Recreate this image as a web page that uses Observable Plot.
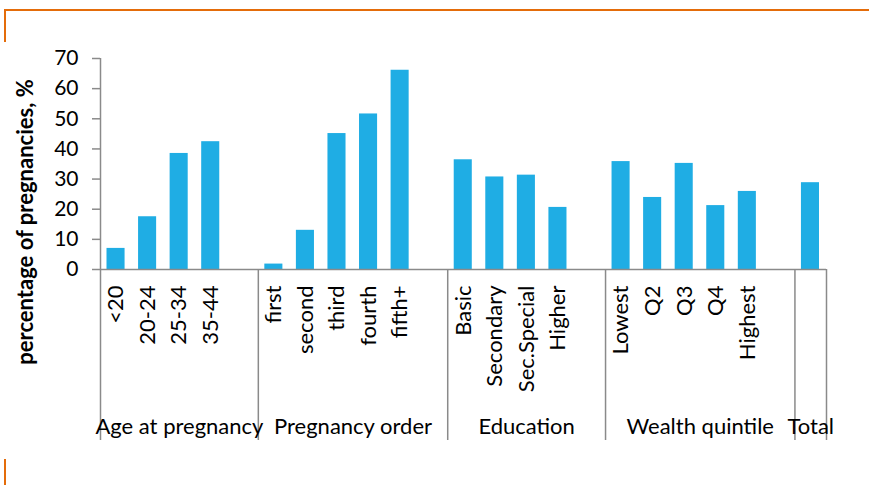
<!DOCTYPE html>
<html>
<head>
<meta charset="utf-8">
<script src="https://cdn.jsdelivr.net/npm/d3@7"></script>
<script src="https://cdn.jsdelivr.net/npm/@observablehq/plot@0.6"></script>
<style>
  html, body { margin: 0; padding: 0; background: #fff; }
  #wrap { position: relative; width: 869px; height: 485px; overflow: hidden; }
  .orange { position: absolute; background: #E46C0A; }
  #chart { position: absolute; left: 0; top: 0; }
</style>
</head>
<body>
<div id="wrap">
  <div id="chart"></div>
  <div class="orange" style="left:4px; top:9px; width:865px; height:2px;"></div>
  <div class="orange" style="left:4px; top:9px; width:2px; height:33px;"></div>
  <div class="orange" style="left:4px; top:459px; width:2px; height:26px;"></div>
</div>
<script>
// ---- data ----
const groupNames = ["Age at pregnancy", "Pregnancy order", "Education", "Wealth quintile", "Total"];
const ageCats = ["<20", "20-24", "25-34", "35-44"];
const ageVals = [7.0, 17.5, 38.5, 42.4];
const orderCats = ["first", "second", "third", "fourth", "fifth+"];
const orderVals = [1.8, 13.0, 45.1, 51.6, 66.1];
const eduCats = ["Basic", "Secondary", "Sec.Special", "Higher"];
const eduVals = [36.4, 30.7, 31.3, 20.6];
const wealthCats = ["Lowest", "Q2", "Q3", "Q4", "Highest"];
const wealthVals = [35.8, 23.9, 35.2, 21.2, 25.9];
const totalCats = [""];
const totalVals = [28.8];
const yTicks = [0, 10, 20, 30, 40, 50, 60, 70];
const yTitle = "percentage of pregnancies, %";

// ---- build slot table ----
const groupCats = [ageCats, orderCats, eduCats, wealthCats, totalCats];
const groupVals = [ageVals, orderVals, eduVals, wealthVals, totalVals];
const rows = [];
const groups = [];
let slot = 0;
groupNames.forEach((name, gi) => {
  const start = slot;
  groupCats[gi].forEach((c, i) => {
    rows.push({group: name, cat: c, value: groupVals[gi][i], slot: slot});
    slot += 1;
  });
  if (gi < groupNames.length - 1) slot += 1; // empty spacer slot after each group
  groups.push({name, start, end: slot});
});
const nSlots = slot;
const boundaries = [0, ...groups.map(g => g.end)];

const FONT = "Lato, 'Open Sans', sans-serif";
const GRAY = "#8a8a8a";
const BLUE = "#1FADE4";
const FS = 22;

const chart = Plot.plot({
  width: 869,
  height: 485,
  marginLeft: 100,
  marginRight: 43,
  marginTop: 58,
  marginBottom: 216,
  style: {fontFamily: FONT, color: "#000", background: "transparent", overflow: "visible"},
  x: {type: "linear", domain: [0, nSlots], axis: null},
  y: {domain: [0, d3.max(yTicks)], axis: null},
  marks: [
    Plot.rectY(rows, {x1: d => d.slot, x2: d => d.slot + 1, y: "value", fill: BLUE, insetLeft: 6.5, insetRight: 7}),
    Plot.ruleY([0], {stroke: GRAY, strokeWidth: 1.5}),
    Plot.ruleX([0], {y1: d3.max(yTicks), y2: 0, insetBottom: -171, stroke: GRAY, strokeWidth: 1.5}),
    Plot.ruleX(boundaries.slice(1), {y1: 0, y2: 0, insetBottom: -171, stroke: GRAY, strokeWidth: 1.5}),
    Plot.axisY(yTicks, {tickSize: 8, tickPadding: 14, stroke: GRAY, strokeWidth: 1.5, fill: "#000", fontSize: 21, label: null, tickFormat: d => d}),
    Plot.text(rows.filter(d => d.cat), {x: d => d.slot + 0.5, y: 0, text: "cat", rotate: -90, textAnchor: "end", lineAnchor: "middle", dy: 16, fontSize: FS, fill: "#000"}),
    Plot.text(groups, {x: d => (d.start + d.end) / 2, y: 0, text: "name", lineAnchor: "middle", dy: 157, fontSize: FS, fill: "#000"}),
    Plot.text([yTitle], {frameAnchor: "left", textAnchor: "middle", rotate: -90, lineAnchor: "middle", dx: -75, dy: 58, fontSize: 22, fontWeight: "bold", fill: "#000"})
  ]
});
document.getElementById("chart").appendChild(chart);
</script>
</body>
</html>
